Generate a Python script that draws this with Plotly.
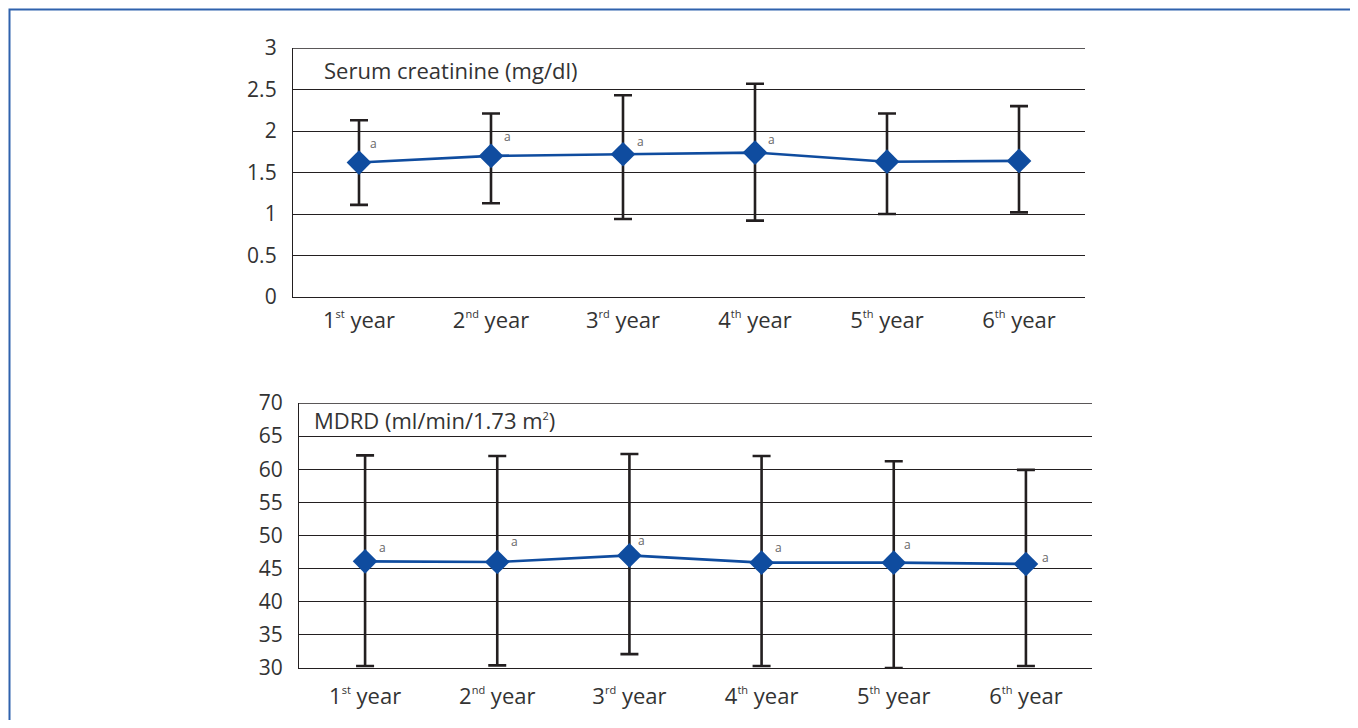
import plotly.graph_objects as go

# ---------------- data ----------------
SUP = "<sup><span style='font-size:11px'>{}</span></sup>"
years = ["1" + SUP.format("st") + " year", "2" + SUP.format("nd") + " year",
         "3" + SUP.format("rd") + " year", "4" + SUP.format("th") + " year",
         "5" + SUP.format("th") + " year", "6" + SUP.format("th") + " year"]

creat_mean = [1.62, 1.70, 1.72, 1.74, 1.63, 1.64]
creat_upper = [2.13, 2.21, 2.43, 2.57, 2.21, 2.30]
creat_lower = [1.11, 1.13, 0.94, 0.92, 1.00, 1.02]
creat_flags = ["a", "a", "a", "a", "", ""]

mdrd_mean = [46.1, 46.0, 47.0, 45.9, 45.9, 45.7]
mdrd_upper = [62.1, 62.0, 62.3, 62.0, 61.2, 59.9]
mdrd_lower = [30.3, 30.4, 32.1, 30.3, 30.0, 30.3]
mdrd_flags = ["a", "a", "a", "a", "a", "a"]

creat_ticks = [0, 0.5, 1, 1.5, 2, 2.5, 3]
mdrd_ticks = [30, 35, 40, 45, 50, 55, 60, 65, 70]

# ---------------- style ----------------
OFF = 8               # page body margin
W, H = 1358 - 2 * OFF, 728 - 2 * OFF
BLUE = "#0f4c9f"
INK = "#231f20"
TXT = "#333333"
FONT = "Open Sans"

# pixel offsets of the small "a" flags relative to their markers
creat_flag_dx = [14, 16, 17, 16, 0, 0]
creat_flag_dy = [19, 19, 13, 13, 0, 0]
mdrd_flag_dx = [17, 17, 12, 17, 14, 20]
mdrd_flag_dy = [14, 21, 15, 15, 18, 6]


def px_x(v):
    return (v - OFF) / W


def px_y(v):
    return 1 - (v - OFF) / H


fig = go.Figure()


def add_series(mean, upper, lower, xa, ya):
    fig.add_trace(go.Scatter(
        x=years, y=mean, xaxis=xa, yaxis=ya,
        mode="lines+markers",
        line=dict(color=BLUE, width=2.6),
        marker=dict(symbol="diamond", size=19, color=BLUE),
        error_y=dict(
            type="data", symmetric=False,
            array=[u - m for u, m in zip(upper, mean)],
            arrayminus=[m - l for m, l in zip(mean, lower)],
            color=INK, thickness=2.6, width=9,
        ),
        showlegend=False, hoverinfo="skip",
    ))


add_series(creat_mean, creat_upper, creat_lower, "x", "y")
add_series(mdrd_mean, mdrd_upper, mdrd_lower, "x2", "y2")

annotations = []
for i, f in enumerate(creat_flags):
    if f:
        annotations.append(dict(x=years[i], y=creat_mean[i], xref="x", yref="y",
                                text=f, showarrow=False,
                                xshift=creat_flag_dx[i], yshift=creat_flag_dy[i],
                                font=dict(family=FONT, size=12, color="#666")))
for i, f in enumerate(mdrd_flags):
    if f:
        annotations.append(dict(x=years[i], y=mdrd_mean[i], xref="x2", yref="y2",
                                text=f, showarrow=False,
                                xshift=mdrd_flag_dx[i], yshift=mdrd_flag_dy[i],
                                font=dict(family=FONT, size=12, color="#666")))

annotations.append(dict(xref="x domain", yref="y", x=0.036, y=2.74,
                        text="Serum creatinine (mg/dl)", showarrow=False,
                        xanchor="left", yanchor="middle",
                        font=dict(family=FONT, size=22, color=TXT)))
annotations.append(dict(xref="x2 domain", yref="y2", x=0.017, y=67.5,
                        text="MDRD (ml/min/1.73 m<sup><span style='font-size:11px'>2</span></sup>)",
                        showarrow=False, xanchor="left", yanchor="middle",
                        font=dict(family=FONT, size=22, color=TXT)))

axis_common = dict(
    showgrid=False, showline=True, linecolor=INK, linewidth=1.3,
    tickfont=dict(family=FONT, size=21, color=TXT), ticks="",
    zeroline=False, fixedrange=True, automargin=False,
)

fig.update_layout(
    width=W, height=H, autosize=False,
    margin=dict(l=0, r=0, t=0, b=0, pad=0),
    paper_bgcolor="white", plot_bgcolor="white",
    xaxis=dict(axis_common, domain=[px_x(293), px_x(1085)], anchor="y",
               type="category", range=[-0.5, 5.5], ticklabelstandoff=3,
               tickfont=dict(family=FONT, size=22, color=TXT)),
    yaxis=dict(axis_common, domain=[px_y(297), px_y(48)], anchor="x",
               range=[0, 3], tickvals=creat_ticks,
               ticktext=[f"{t:g}" for t in creat_ticks],
               showgrid=True, gridcolor=INK, gridwidth=1.3,
               ticklabelstandoff=11),
    xaxis2=dict(axis_common, domain=[px_x(299), px_x(1092)], anchor="y2",
                type="category", range=[-0.5, 5.5], ticklabelstandoff=8,
                tickfont=dict(family=FONT, size=22, color=TXT)),
    yaxis2=dict(axis_common, domain=[px_y(668), px_y(403)], anchor="x2",
                range=[30, 70], tickvals=mdrd_ticks,
                ticktext=[str(t) for t in mdrd_ticks],
                showgrid=True, gridcolor=INK, gridwidth=1.3,
                ticklabelstandoff=11),
    annotations=annotations,
    shapes=[
        dict(type="rect", xref="paper", yref="paper",
             x0=px_x(9.5), x1=1.2, y0=-0.2, y1=px_y(9.5),
             line=dict(color="#2f62ad", width=2), layer="below"),
        dict(type="line", xref="x domain", yref="y", x0=0, x1=1, y0=3, y1=3,
             line=dict(color=INK, width=1.3)),
        dict(type="line", xref="x2 domain", yref="y2", x0=0, x1=1, y0=70, y1=70,
             line=dict(color=INK, width=1.3)),
    ],
)

fig.write_html("out.html")
